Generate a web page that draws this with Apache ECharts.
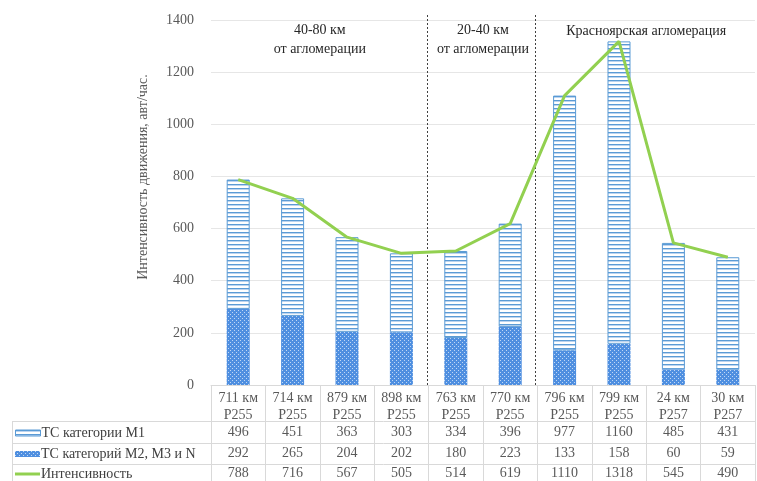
<!DOCTYPE html>
<html><head><meta charset="utf-8">
<script src="https://cdn.jsdelivr.net/npm/echarts@6/dist/echarts.min.js"></script>
<style>html,body{margin:0;padding:0;background:#fff}#c{width:757px;height:481px}</style>
</head><body><div id="c"></div>
<script>
const categories = ['711 км\nР255','714 км\nР255','879 км\nР255','898 км\nР255','763 км\nР255','770 км\nР255','796 км\nР255','799 км\nР255','24 км\nР257','30 км\nР257'];
const m1 = [496,451,363,303,334,396,977,1160,485,431];
const m2 = [292,265,204,202,180,223,133,158,60,59];
const total = [788,716,567,505,514,619,1110,1318,545,490];
const seriesNames = ['ТС категории М1','ТС категорий М2, М3 и N','Интенсивность'];
const yTitle = 'Интенсивность движения, авт/час.';
const groups = [
  {text:'40-80 км\nот агломерации', from:0, to:3},
  {text:'20-40 км\nот агломерации', from:4, to:5},
  {text:'Красноярская агломерация', from:6, to:9}
];
const separatorsAfter = [3,5];

function hatch(){
  const c=document.createElement('canvas');c.width=4;c.height=4;
  const g=c.getContext('2d');
  g.fillStyle='#ffffff';g.fillRect(0,0,4,4);
  g.fillStyle='#5b9bd5';g.fillRect(0,0,4,1);
  g.fillStyle='#bcd4ef';g.fillRect(0,1,4,1);
  return c;
}
function dots(){
  const c=document.createElement('canvas');c.width=4;c.height=4;
  const g=c.getContext('2d');
  g.fillStyle='#4f8fe0';g.fillRect(0,0,4,4);
  g.fillStyle='#c0d8f5';
  g.fillRect(0,0,1,1);g.fillRect(2,2,1,1);
  return c;
}
const serif = 'Liberation Serif';
const hatchPat = {image:hatch(),repeat:'repeat'}, dotPat = {image:dots(),repeat:'repeat'};
const legendText = {fontFamily:serif,fontSize:14,color:'#404040',padding:[0,0,0,-4]};
function mkLegend(name, top, h, style){
  return {orient:'vertical',left:15,top:top,padding:0,itemWidth:25,itemHeight:h,
    textStyle:legendText,data:[{name:name,icon:'rect',itemStyle:style}]};
}
const chart = echarts.init(document.getElementById('c'));
const option = {
  animation:false,
  grid:{left:211,right:2,top:20,bottom:96,containLabel:false},
  legend:[
    mkLegend(seriesNames[0],426,6,{color:hatchPat,borderColor:'#5b9bd5',borderWidth:1}),
    mkLegend(seriesNames[1],447,6,{color:dotPat}),
    mkLegend(seriesNames[2],467,3,{color:'#92d050'})
  ],
  xAxis:{
    type:'category',data:categories,
    axisLine:{show:true,lineStyle:{color:'#d9d9d9'}},
    axisTick:{show:true,length:96,interval:0,lineStyle:{color:'#d9d9d9'}},
    axisLabel:{fontFamily:serif,fontSize:14,color:'#595959',lineHeight:17,margin:5,interval:0}
  },
  yAxis:{
    type:'value',min:0,max:1400,interval:200,
    axisLine:{show:false},axisTick:{show:false},
    splitLine:{lineStyle:{color:'#e6e6e6'}},
    axisLabel:{fontFamily:serif,fontSize:14,color:'#595959',margin:17,formatter:v=>String(v)}
  },
  series:[
    {name:seriesNames[1],type:'bar',stack:'a',data:m2,barWidth:23,
     itemStyle:{color:dotPat}},
    {name:seriesNames[0],type:'bar',stack:'a',data:m1,barWidth:23,
     itemStyle:{color:hatchPat,borderColor:'#5b9bd5',borderWidth:1}},
    {name:seriesNames[2],type:'line',data:total,symbol:'none',
     lineStyle:{color:'#92d050',width:3},itemStyle:{color:'#92d050'}}
  ]
};
chart.setOption(option);

const g = [];
const xs = categories.map((c,i)=>chart.convertToPixel({xAxisIndex:0},i));
const step = xs[1]-xs[0];
const right = xs[xs.length-1]+step/2;
const rowY = [432,453,473];
const rows = [m1,m2,total];
rows.forEach((arr,r)=>{
  arr.forEach((v,i)=>{
    g.push({type:'text',x:xs[i],y:rowY[r],style:{text:String(v),fontFamily:serif,fontSize:14,fill:'#595959',align:'center',verticalAlign:'middle'}});
  });
});
[421,443,464].forEach(y=>{
  g.push({type:'line',shape:{x1:12,y1:y+0.5,x2:right,y2:y+0.5},style:{stroke:'#d9d9d9',lineWidth:1}});
});
g.push({type:'line',shape:{x1:12.5,y1:421,x2:12.5,y2:481},style:{stroke:'#d9d9d9',lineWidth:1}});
separatorsAfter.forEach(i=>{
  const x=Math.round(xs[i]+step/2)-1.5;
  g.push({type:'line',shape:{x1:x,y1:15,x2:x,y2:385},style:{stroke:'#404040',lineWidth:1,lineDash:[2,2]}});
});
groups.forEach((gr,k)=>{
  const cx=(xs[gr.from]+xs[gr.to])/2;
  g.push({type:'text',x:cx,y:k===2?31:40,style:{text:gr.text,fontFamily:serif,fontSize:14,fill:'#262626',align:'center',verticalAlign:'middle',lineHeight:19}});
});
g.push({type:'text',x:143,y:177,rotation:Math.PI/2,style:{text:yTitle,fontFamily:serif,fontSize:14,fill:'#595959',align:'center',verticalAlign:'middle'}});
chart.setOption({graphic:g});
</script></body></html>
